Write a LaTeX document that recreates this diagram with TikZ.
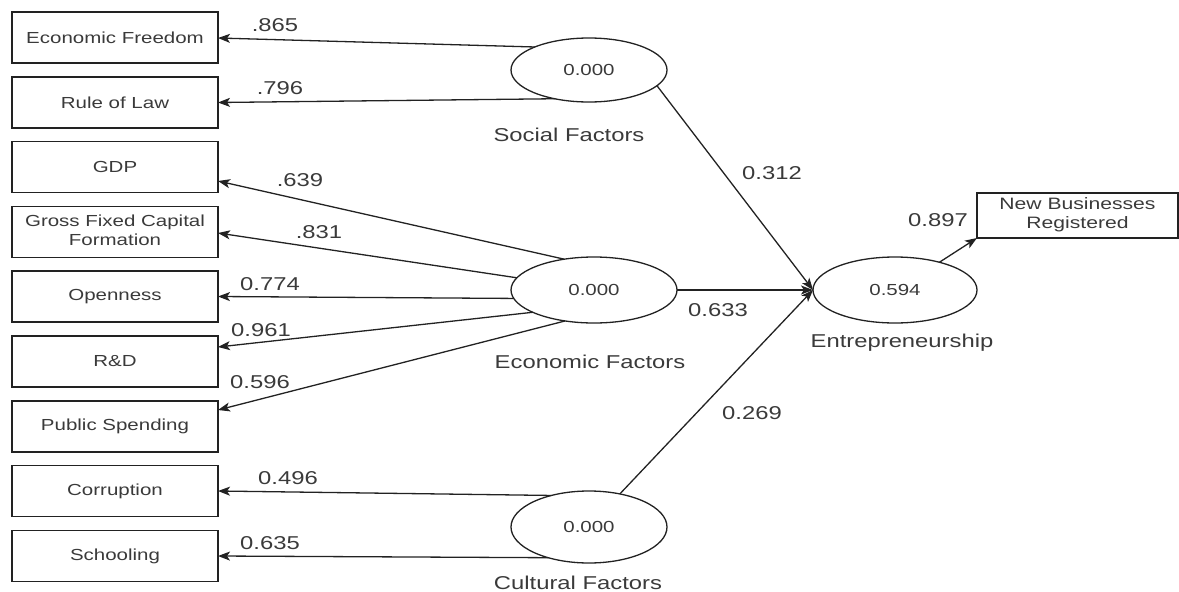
\documentclass[tikz,border=0pt]{standalone}
\usepackage{fontspec}
\usepackage{graphicx}
\setmainfont{Liberation Sans}
\usetikzlibrary{arrows.meta,shapes.geometric}
\newcommand\hs[1]{\scalebox{1.28}[1]{#1}}
\definecolor{txt}{HTML}{3A3A3A}
\definecolor{ln}{HTML}{222222}
\tikzset{
  ind/.style={draw=ln, line width=1.3pt, minimum width=206pt, minimum height=51pt, inner sep=0pt, outer sep=0pt, text=txt, font=\fontsize{16}{19}\selectfont},
  lat/.style={draw=ln, line width=1.3pt, ellipse, inner sep=0pt, outer sep=0pt, text=txt, font=\fontsize{16}{19}\selectfont},
  lbl/.style={text=txt, inner sep=0pt, font=\fontsize{18.6}{22}\selectfont},
  arr/.style={draw=ln, line width=1.3pt, -{Stealth[length=12pt,width=9pt,inset=3pt]}},
}
\begin{document}
\begin{tikzpicture}[x=1pt,y=-1pt]
\useasboundingbox (0,0) rectangle (1179,592);
% indicator boxes
\node[ind] (ef)   at (115,37.5)  {\hs{Economic Freedom}};
\node[ind] (rl)   at (115,102.5) {\hs{Rule of Law}};
\node[ind] (gdp)  at (115,167)   {\hs{GDP}};
\node[ind] (gfcf) at (115,232)   {\hs{\begin{tabular}{@{}c@{}}Gross Fixed Capital\\Formation\end{tabular}}};
\node[ind] (open) at (115,296.5) {\hs{Openness}};
\node[ind] (rd)   at (115,361.5) {\hs{R\&D}};
\node[ind] (ps)   at (115,426.5) {\hs{Public Spending}};
\node[ind] (corr) at (115,491)   {\hs{Corruption}};
\node[ind] (sch)  at (115,556)   {\hs{Schooling}};
\node[ind, minimum width=201pt, minimum height=45pt, font=\fontsize{16.5}{19}\selectfont] (nbr) at (1077.5,215.5) {\hs{\begin{tabular}{@{}c@{}}New Businesses\\Registered\end{tabular}}};
% latent variables
\node[lat, minimum width=156pt, minimum height=64pt] (soc) at (589,70)  {\hs{0.000}};
\node[lat, minimum width=166pt, minimum height=66pt] (eco) at (594,290) {\hs{0.000}};
\node[lat, minimum width=156pt, minimum height=72pt] (cul) at (589,527) {\hs{0.000}};
\node[lat, minimum width=164pt, minimum height=66pt] (ent) at (895,290) {\hs{0.594}};
% latent names
\node[lbl] (socn) at (569,135) {\hs{Social Factors}};
\node[lbl] (econ) at (590,362) {\hs{Economic Factors}};
\node[lbl] (culn) at (578,583) {\hs{Cultural Factors}};
\node[lbl] (entn) at (902,343) {\hs{Entrepreneurship}};
% outer loadings
\draw[arr] (soc.157) -- ([yshift=-0.5pt]ef.east);
\draw[arr] (soc.220) -- (rl.east);
\draw[arr] (eco.134) -- ([yshift=-14pt]gdp.east);
\draw[arr] (eco.171) -- ([yshift=-1pt]gfcf.east);
\draw[arr] (eco.186) -- (open.east);
\draw[arr] (eco.200) -- ([yshift=14.5pt]rd.east);
\draw[arr] (eco.227) -- ([yshift=16.5pt]ps.east);
\draw[arr] (cul.140) -- (corr.east);
\draw[arr] (cul.217) -- (sch.east);
% structural paths
\draw[arr] (soc.-13) -- (ent.west);
\draw[arr] (eco.east) -- (ent.west);
\draw[arr] (cul.47) -- (ent.west);
\draw[arr] (ent.32) -- (nbr.south west);
% loading labels
\node[lbl] (l1) at (275,25)  {\hs{.865}};
\node[lbl] (l2) at (280,88)  {\hs{.796}};
\node[lbl] (l3) at (300,180) {\hs{.639}};
\node[lbl] (l4) at (319,232) {\hs{.831}};
\node[lbl] (l5) at (270,284) {\hs{0.774}};
\node[lbl] (l6) at (261,330) {\hs{0.961}};
\node[lbl] (l7) at (260,382) {\hs{0.596}};
\node[lbl] (l8) at (288,478) {\hs{0.496}};
\node[lbl] (l9) at (270,543) {\hs{0.635}};
\node[lbl] (p1) at (772,173) {\hs{0.312}};
\node[lbl] (p2) at (718,310) {\hs{0.633}};
\node[lbl] (p3) at (752,413) {\hs{0.269}};
\node[lbl] (p4) at (938,220) {\hs{0.897}};
\end{tikzpicture}
\end{document}
